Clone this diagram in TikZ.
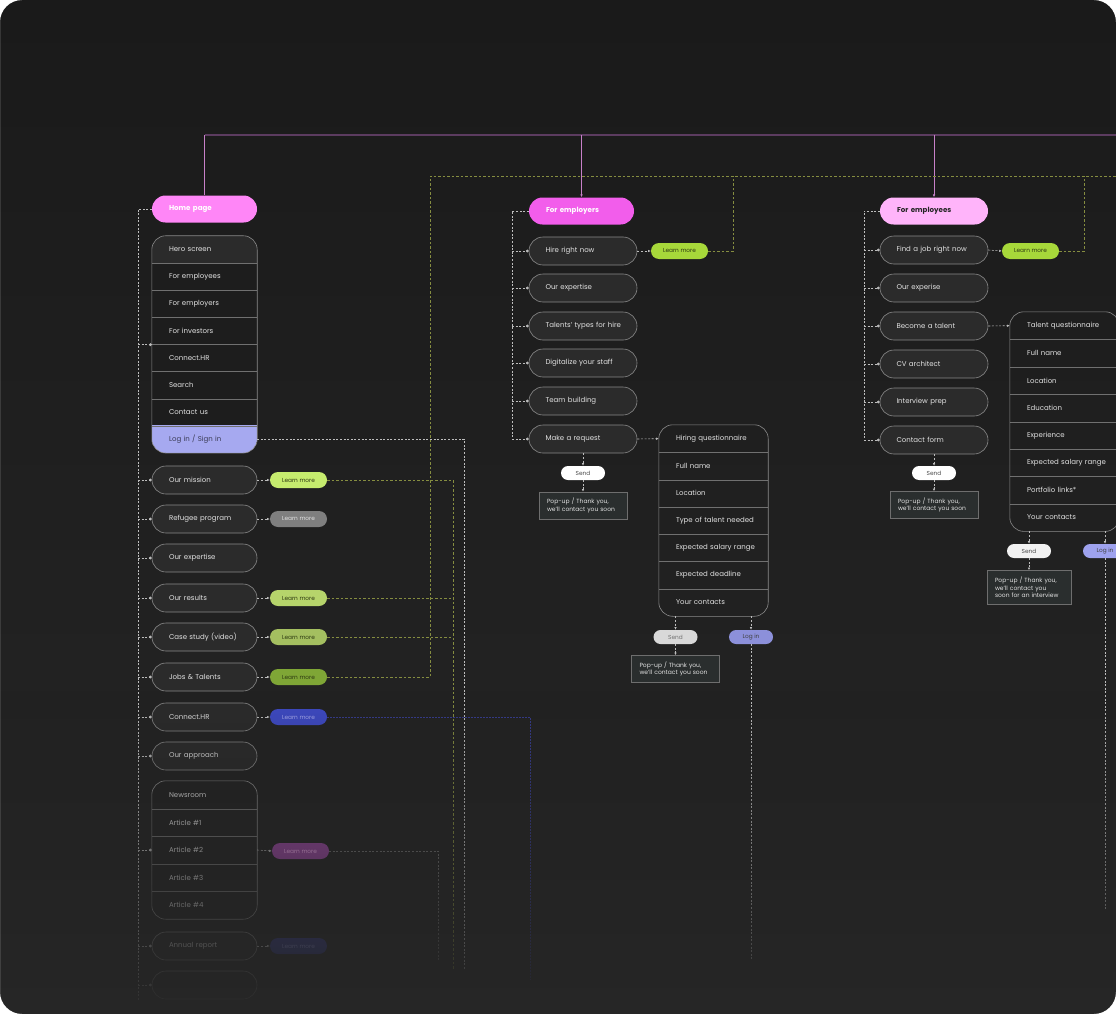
\documentclass[tikz,border=0pt]{standalone}
\usepackage{fontspec}
\setmainfont{Poppins}
\usepackage{tikz}
\usetikzlibrary{arrows.meta, positioning, calc, fadings, backgrounds}

\definecolor{flowBgTop}{HTML}{1A1A1A}
\definecolor{flowBgMid}{HTML}{1C1C1C}
\definecolor{flowBgFade}{HTML}{202020}
\definecolor{flowBgBot}{HTML}{262626}
\definecolor{flowItem}{HTML}{2B2B2B}
\definecolor{flowRow}{HTML}{1D1D1D}
\definecolor{flowEdge}{HTML}{8A8A8A}
\definecolor{flowRule}{HTML}{707070}
\definecolor{flowText}{HTML}{E2E2E2}
\definecolor{flowDark}{HTML}{2E3A12}
\definecolor{flowPop}{HTML}{2A2E2E}
\definecolor{flowPopEdge}{HTML}{6E6E6E}
\definecolor{pinkHome}{HTML}{FF86F7}
\definecolor{pinkEmployers}{HTML}{F25DEB}
\definecolor{pinkEmployees}{HTML}{FFB4FA}
\definecolor{lavLogin}{HTML}{A6A9F0}
\definecolor{lavSmall}{HTML}{8C90DA}
\definecolor{lavSmallPale}{HTML}{9EA2EE}
\definecolor{busPurple}{HTML}{5C3C60}
\definecolor{busDropPink}{HTML}{C780C9}
\definecolor{railGreen}{HTML}{858D40}
\definecolor{railBlue}{HTML}{363C8C}
\definecolor{railGrey}{HTML}{BDBDBD}
\definecolor{moreLime}{HTML}{A7D83A}
\definecolor{moreMission}{HTML}{C6EC6E}
\definecolor{moreGrey}{HTML}{7F7F7F}
\definecolor{moreResults}{HTML}{B6D46B}
\definecolor{moreCase}{HTML}{A4BF60}
\definecolor{moreJobs}{HTML}{7FA636}
\definecolor{moreBlue}{HTML}{3E4AC4}
\definecolor{morePurple}{HTML}{9A48A2}
\definecolor{moreNavy}{HTML}{363C8A}

\newcommand{\itemFont}{\fontsize{7}{8.5}\selectfont}
\newcommand{\headFont}{\fontsize{7.1}{8.5}\selectfont\bfseries}
\newcommand{\moreFont}{\fontsize{5.8}{6.5}\selectfont}
\newcommand{\popFont}{\fontsize{6}{7.6}\selectfont}
\newcommand{\rowText}[1]{\hbox to \hsize{#1\hss}}

\tikzfading[name=fadeDown, top color=transparent!100, bottom color=transparent!3]

\tikzset{
  %% ── Pages ────────────────────────────────────────────────────────────
  pageHead/.style     = {rectangle, rounded corners=13.5pt, minimum height=27pt,
                         text width=71pt, inner xsep=17pt, inner ysep=0pt,
                         align=left, font=\headFont},
  pageItem/.style     = {rectangle, rounded corners=14pt, draw=flowEdge,
                         line width=0.6pt, fill=flowItem, minimum height=28pt,
                         text width=71pt, inner xsep=17pt, inner ysep=0pt,
                         align=left, text=flowText, font=\itemFont},
  pageItemWide/.style = {pageItem, text width=75pt, inner xsep=16.5pt},
  %%
  %% ── Lists ────────────────────────────────────────────────────────────
  listRow/.style      = {rectangle, minimum height=27.2pt, text width=71pt,
                         inner xsep=17pt, inner ysep=0pt, align=left,
                         text=flowText, font=\itemFont},
  listFrame/.style    = {draw=flowEdge, line width=0.6pt, rounded corners=14pt},
  listRule/.style     = {draw=flowRule, line width=0.6pt},
  %%
  %% ── Buttons ──────────────────────────────────────────────────────────
  moreBtn/.style      = {rectangle, rounded corners=8pt, minimum width=57pt,
                         minimum height=16pt, inner sep=0pt, font=\moreFont,
                         text=flowDark},
  smallBtn/.style     = {rectangle, rounded corners=7pt, minimum width=44pt,
                         minimum height=14pt, inner sep=0pt, font=\moreFont,
                         text=black!70},
  popBox/.style       = {rectangle, draw=flowPopEdge, fill=flowPop,
                         line width=0.6pt, minimum height=27pt, text width=72pt,
                         inner xsep=8pt, inner ysep=0pt, align=left,
                         text=flowText, font=\popFont},
  %%
  %% ── Links ────────────────────────────────────────────────────────────
  spineLink/.style    = {draw=railGrey, line width=0.6pt,
                         dash pattern=on 2pt off 1.6pt},
  dotLink/.style      = {spineLink, -{Circle[length=2.8pt]}},
  tipLink/.style      = {spineLink, -{Latex[length=2.6pt, width=2.4pt]}},
  greenLink/.style    = {draw=railGreen, line width=0.6pt,
                         dash pattern=on 2.5pt off 2pt},
  blueLink/.style     = {draw=railBlue, line width=0.7pt,
                         dash pattern=on 1.5pt off 1.5pt},
  busLine/.style      = {draw=busPurple, line width=1.6pt},
  busDrop/.style      = {draw=busDropPink, line width=0.6pt},
}

\begin{document}
\begin{tikzpicture}[x=1pt, y=-1pt, font=\itemFont]
\useasboundingbox (0,0) rectangle (1116,1014);
\begin{scope}[on background layer]
  \shade[top color=flowBgTop, middle color=flowBgMid, bottom color=flowBgBot]
        (0,0) rectangle (1116,1014);
\end{scope}

%% home page column
\node[pageHead, fill=pinkHome, text=white] (home) at (204.5, 209) {Home page};
\foreach \i/\txt in {1/Hero screen, 2/For employees, 3/For employers,
                     4/For investors, 5/Connect.HR, 6/Search, 7/Contact us}
  \node[listRow] (menu\i) at (204.5, {222.45+27.1*\i}) {\rowText{\txt}};
\node[listRow, text=black!65!lavLogin] (menu8) at (204.5, {222.45+27.1*8})
     {\rowText{Log in / Sign in}};
\begin{scope}[on background layer]
  \clip[rounded corners=14pt] (menu1.north west) rectangle (menu8.south east);
  \fill[flowRow]  (menu1.north west) rectangle (menu8.south east);
  \fill[flowItem] (menu1.north west) rectangle (menu1.south east);
  \fill[lavLogin] (menu8.north west) rectangle (menu8.south east);
\end{scope}
\foreach \i in {1,...,7}
  \draw[listRule] (menu\i.south west) -- (menu\i.south east);
\draw[listFrame] (menu1.north west) rectangle (menu8.south east);

\foreach \name/\y/\txt in {mission/480/Our mission, refugee/519/Refugee program,
    expertise/558/Our expertise, results/598/Our results,
    caseStudy/637/Case study (video), jobs/677/Jobs \& Talents,
    connect/717/Connect.HR, approach/756/Our approach,
    annual/946/Annual report, special/985/{}}
  \node[pageItem] (\name) at (204.5, \y) {\rowText{\txt}};

\foreach \i/\txt in {1/Newsroom, 2/Article \#1, 3/Article \#2, 4/Article \#3,
                     5/Article \#4}
  \node[listRow, minimum height=27.6pt] (news\i) at (204.5, {767.2+27.6*\i})
       {\rowText{\txt}};
\begin{scope}[on background layer]
  \clip[rounded corners=14pt] (news1.north west) rectangle (news5.south east);
  \fill[flowRow]  (news1.north west) rectangle (news5.south east);
  \fill[flowItem] (news1.north west) rectangle (news1.south east);
\end{scope}
\foreach \i in {1,...,4}
  \draw[listRule] (news\i.south west) -- (news\i.south east);
\draw[listFrame] (news1.north west) rectangle (news5.south east);

\node[moreBtn, fill=moreMission] (missionMore) at (298.5, 480) {Learn more};
\node[moreBtn, fill=moreGrey, text=flowText] (refugeeMore) at (298.5, 519) {Learn more};
\node[moreBtn, fill=moreResults] (resultsMore) at (298.5, 598) {Learn more};
\node[moreBtn, fill=moreCase] (caseStudyMore) at (298.5, 637) {Learn more};
\node[moreBtn, fill=moreJobs] (jobsMore) at (298.5, 677) {Learn more};
\node[moreBtn, fill=moreBlue, text=lavLogin] (connectMore) at (298.5, 717) {Learn more};
\node[moreBtn, fill=morePurple, text=pinkEmployees] (articleMore) at (300.5, 851) {Learn more};
\node[moreBtn, fill=moreNavy, text=lavSmall] (annualMore) at (298.5, 946) {Learn more};

%% for employers column
\node[pageHead, fill=pinkEmployers, text=white] (employers) at (581.5, 211)
     {For employers};
\foreach \name/\y/\txt in {hire/251/Hire right now, expert/288/Our expertise,
    talents/326/Talents' types for hire, digital/363/Digitalize your staff,
    team/401/Team building, request/439/Make a request}
  \node[pageItemWide] (\name) at (583, \y) {\rowText{\txt}};
\node[moreBtn, fill=moreLime] (hireMore) at (679.5, 251) {Learn more};

\foreach \i/\txt in {1/Hiring questionnaire, 2/Full name, 3/Location,
    4/Type of talent needed, 5/Expected salary range, 6/Expected deadline,
    7/Your contacts}
  \node[listRow, minimum height=27.3pt, text width=75pt] (hq\i)
       at (713.5, {411.35+27.3*\i}) {\rowText{\txt}};
\begin{scope}[on background layer]
  \clip[rounded corners=14pt] (hq1.north west) rectangle (hq7.south east);
  \fill[flowRow]  (hq1.north west) rectangle (hq7.south east);
  \fill[flowItem] (hq1.north west) rectangle (hq1.south east);
\end{scope}
\foreach \i in {1,...,6}
  \draw[listRule] (hq\i.south west) -- (hq\i.south east);
\draw[listFrame] (hq1.north west) rectangle (hq7.south east);

\node[smallBtn, fill=white] (sendA) at (583, 473) {Send};
\node[popBox] (popA) at (583, 505.5) {Pop-up / Thank you,\\we'll contact you soon};
\node[smallBtn, fill=black!15, text=black!55] (sendB) at (675.5, 637) {Send};
\node[smallBtn, fill=lavSmall, text=black!75] (logB) at (751, 637) {Log in};
\node[popBox] (popB) at (675.5, 669) {Pop-up / Thank you,\\we'll contact you soon};

%% for employees column
\node[pageHead, fill=pinkEmployees, text=black!85, text width=74pt]
     (employees) at (934, 211) {For employees};
\foreach \name/\y/\txt in {find/250/Find a job right now, experise/288/Our experise,
    become/326/Become a talent, cv/364/CV architect,
    interview/402/Interview prep, contact/440/Contact form}
  \node[pageItemWide] (\name) at (934, \y) {\rowText{\txt}};
\node[moreBtn, fill=moreLime] (findMore) at (1030.5, 251) {Learn more};

\foreach \i/\txt in {1/Talent questionnaire, 2/Full name, 3/Location,
    4/Education, 5/Experience, 6/Expected salary range, 7/Portfolio links*,
    8/Your contacts}
  \node[listRow, minimum height=27.4pt, text width=75pt] (tq\i)
       at (1064.5, {298.3+27.4*\i}) {\rowText{\txt}};
\begin{scope}[on background layer]
  \clip[rounded corners=14pt] (tq1.north west) rectangle (tq8.south east);
  \fill[flowRow]  (tq1.north west) rectangle (tq8.south east);
  \fill[flowItem] (tq1.north west) rectangle (tq1.south east);
\end{scope}
\foreach \i in {1,...,7}
  \draw[listRule] (tq\i.south west) -- (tq\i.south east);
\draw[listFrame] (tq1.north west) rectangle (tq8.south east);

\node[smallBtn, fill=white] (sendC) at (934, 473) {Send};
\node[popBox] (popC) at (934, 505) {Pop-up / Thank you,\\we'll contact you soon};
\node[smallBtn, fill=black!5] (sendD) at (1029, 551) {Send};
\node[smallBtn, fill=lavSmallPale, text=black!75] (logD) at (1105, 551) {Log in};
\node[popBox, text width=68pt, minimum height=34pt] (popD) at (1029, 587.5)
     {Pop-up / Thank you,\\we'll contact you\\soon for an interview};

%% top bus and rails
\coordinate (busEnd) at (1120, 135);
\draw[busLine] (home.north |- busEnd) -- (busEnd);
\draw[busDrop] (home.north |- busEnd) -- (home.north);
\draw[busDrop, -{Latex[length=3pt, width=2.6pt]}] (employers.north |- busEnd)
     -- (employers.north);
\draw[busDrop, -{Latex[length=3pt, width=2.6pt]}] (employees.north |- busEnd)
     -- (employees.north);

\coordinate (railW) at (430, 176);
\coordinate (railE) at (1120, 176);
\coordinate (railHire) at (733, 176);
\coordinate (railFind) at (1084, 176);
\coordinate (railMission) at (453, 970);
\coordinate (railLogin) at (464, 970);
\coordinate (railConnect) at (530, 980);
\coordinate (railArticle) at (438, 960);
\coordinate (railLogB) at (751, 960);
\coordinate (railLogD) at (1105, 910);

\draw[greenLink] (jobsMore.east) -| (railW) -- (railE);
\draw[greenLink] (hireMore.east) -| (railHire);
\draw[greenLink] (findMore.east) -| (railFind);
\draw[greenLink] (missionMore.east) -| (railMission);
\draw[greenLink] (resultsMore.east) -- (resultsMore.east -| railMission);
\draw[greenLink] (caseStudyMore.east) -- (caseStudyMore.east -| railMission);
\draw[spineLink] (menu8.east) -| (railLogin);
\draw[blueLink] (connectMore.east) -| (railConnect);
\draw[spineLink, draw=flowRule] (articleMore.east) -| (railArticle);

%% spines
\coordinate (spineA) at (138, 1000);
\draw[spineLink] (home.west) -| (spineA);
\draw[dotLink] (spineA |- menu4.south west) -- (menu4.south west);
\foreach \name in {mission, refugee, expertise, results, caseStudy, jobs,
                   connect, approach, news3, annual, special}
  \draw[dotLink] (spineA |- \name.west) -- (\name.west);
\foreach \name in {mission, refugee, results, caseStudy, jobs, connect, annual}
  \draw[tipLink] (\name.east) -- (\name More.west);
\draw[tipLink] (news3.east) -- (articleMore.west);

\coordinate (spineB) at (512, 439);
\draw[spineLink] (employers.west) -| (spineB);
\foreach \name in {hire, expert, talents, digital, team, request}
  \draw[dotLink] (spineB |- \name.west) -- (\name.west);
\draw[tipLink] (hire.east) -- (hireMore.west);
\draw[tipLink] (request.east) -- (hq1.west);
\draw[tipLink] (request.south) -- (sendA.north);
\draw[tipLink] (sendA.south) -- (popA.north);
\draw[tipLink] (sendB.north |- hq7.south) -- (sendB.north);
\draw[tipLink] (sendB.south) -- (popB.north);
\draw[tipLink] (logB.north |- hq7.south) -- (logB.north);
\draw[spineLink] (logB.south) -- (railLogB);

\coordinate (spineC) at (864, 440);
\draw[spineLink] (employees.west) -| (spineC);
\foreach \name in {find, experise, become, cv, interview, contact}
  \draw[dotLink] (spineC |- \name.west) -- (\name.west);
\draw[tipLink] (find.east) -- (findMore.west);
\draw[tipLink] (become.east) -- (tq1.west);
\draw[tipLink] (contact.south) -- (sendC.north);
\draw[tipLink] (sendC.south) -- (popC.north);
\draw[tipLink] (sendD.north |- tq8.south) -- (sendD.north);
\draw[tipLink] (sendD.south) -- (popD.north);
\draw[tipLink] (logD.north |- tq8.south) -- (logD.north);
\draw[spineLink] (logD.south) -- (railLogD);

%% fade and frame
\shade[top color=flowBgFade, bottom color=flowBgBot, path fading=fadeDown]
      (0,690) rectangle (1116,1014);
\fill[white, even odd rule] (-2,-2) rectangle (1118,1016)
      [rounded corners=22pt] (0,0) rectangle (1116,1014);

\end{tikzpicture}
\end{document}
